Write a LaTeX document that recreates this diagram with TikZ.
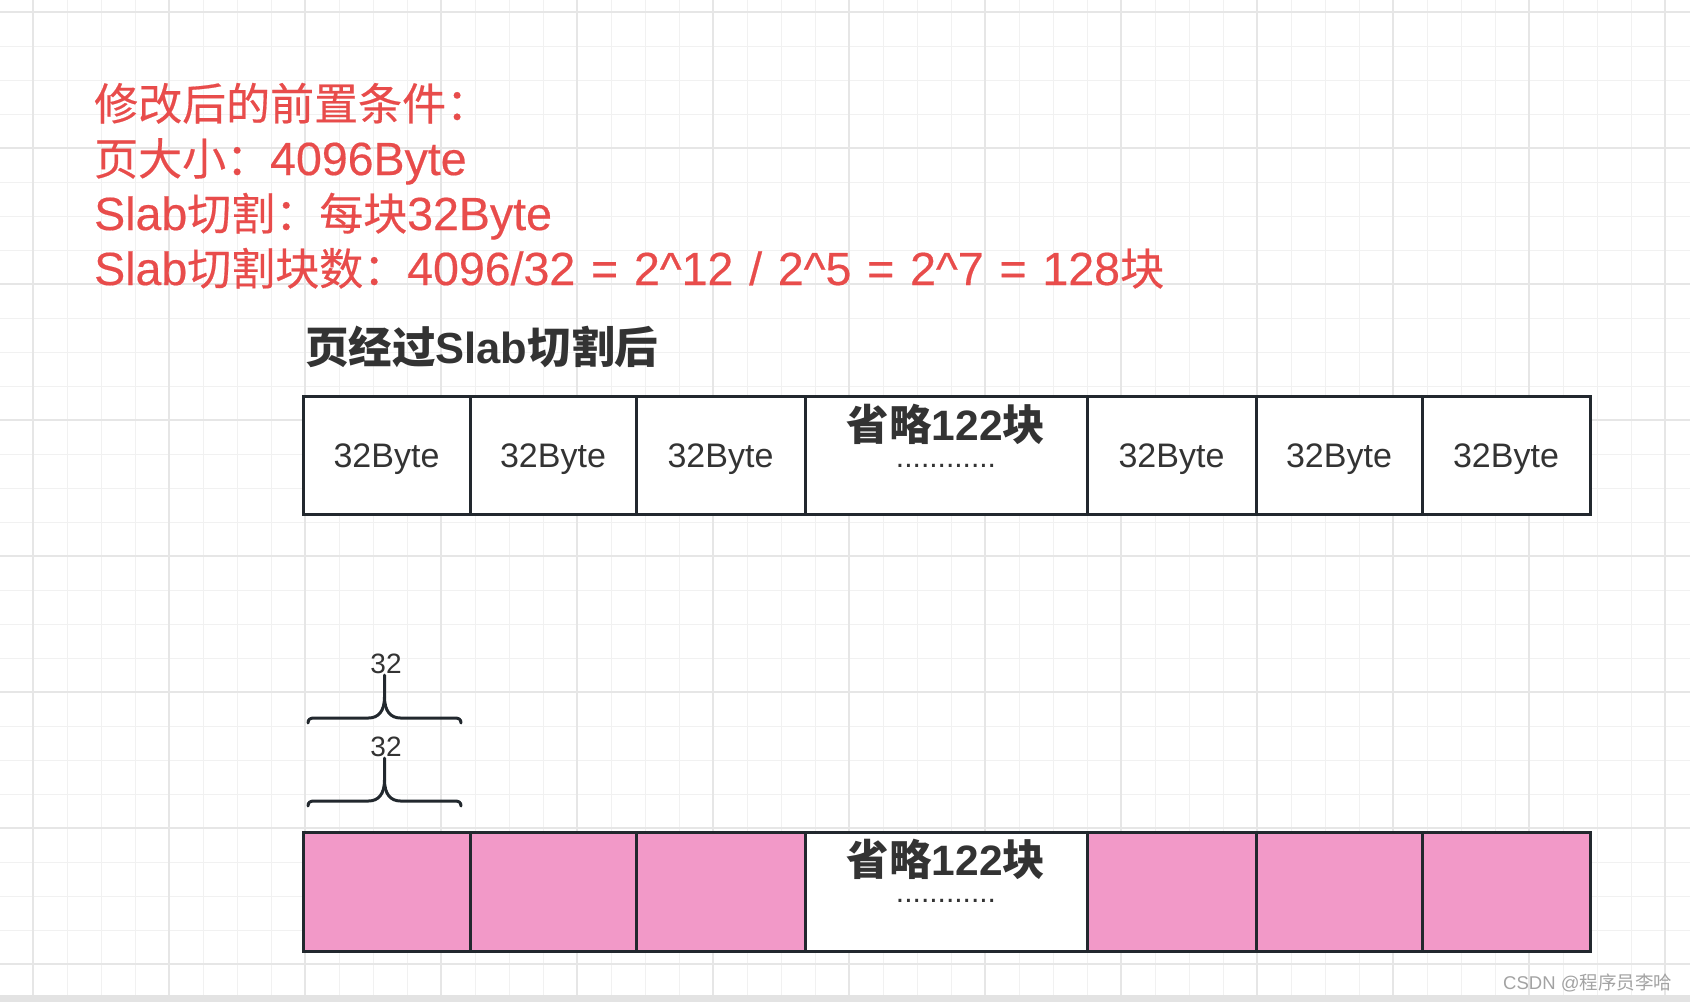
\documentclass[tikz,border=0pt]{standalone}
\usepackage{fontspec}
\setmainfont{Liberation Sans}
\newfontfamily\cjk{Noto Sans CJK SC}
\newfontfamily\cjks{Noto Sans CJK SC}[Scale=0.946,FakeBold=0.4]
\newfontfamily\redlat{Liberation Sans}[FakeBold=0.4]
\newcommand{\C}[1]{{\cjk #1}}
\newcommand{\CS}[1]{{\cjks #1}}
\definecolor{redtext}{HTML}{E84C4B}
\definecolor{darktext}{HTML}{333333}
\definecolor{strokec}{HTML}{22282E}
\definecolor{pinkfill}{HTML}{F299C8}
\definecolor{gridminorc}{HTML}{F1F1F1}
\definecolor{gridmajorc}{HTML}{E6E6E6}
\definecolor{stripc}{HTML}{E3E3E3}
\definecolor{markc}{HTML}{A3A3A3}
\tikzset{
  gridminor/.style={draw=gridminorc, line width=1.5pt},
  gridmajor/.style={draw=gridmajorc, line width=2pt},
  redtxt/.style={inner sep=0pt, text=redtext, font={\redlat\fontsize{46.5}{55}\selectfont\spaceskip=15.8pt\relax}},
  titletxt/.style={inner sep=0pt, text=darktext, font=\fontsize{43.5}{50}\selectfont\bfseries},
  cell/.style={draw=strokec, line width=3pt, inner sep=0pt, text=darktext,
    font=\fontsize{34}{40}\selectfont, text height=24.3pt, text depth=0pt},
  pinkcell/.style={cell, fill=pinkfill},
  whitecell/.style={cell, fill=white},
  omittxt/.style={inner sep=0pt, text=darktext, font=\fontsize{42.5}{50}\selectfont\bfseries, text depth=0pt},
  dotstxt/.style={inner sep=0pt, text=darktext, font=\fontsize{30}{36}\selectfont, text height=4pt, text depth=0pt},
  bracelbl/.style={inner sep=0pt, text=darktext, font=\fontsize{28}{34}\selectfont},
  bracepath/.style={draw=strokec, line width=3pt, line cap=round, line join=round},
  marktxt/.style={inner sep=0pt, text=markc, font=\fontsize{18.5}{22}\selectfont}
}
\begin{document}
\begin{tikzpicture}[x=1pt,y=-1pt]
\useasboundingbox (0,0) rectangle (1690,1002);
\fill[white] (0,0) rectangle (1690,1002);
% grid
\foreach \k in {0,...,48} \draw[gridminor] ({33.3+34*\k},0) -- ({33.3+34*\k},995);
\foreach \k in {0,...,28} \draw[gridminor] (0,{12.3+34*\k}) -- (1690,{12.3+34*\k});
\foreach \k in {0,4,...,48} \draw[gridmajor] ({33.3+34*\k},0) -- ({33.3+34*\k},995);
\foreach \k in {0,4,...,28} \draw[gridmajor] (0,{12.3+34*\k}) -- (1690,{12.3+34*\k});
\fill[stripc] (0,995) rectangle (1690,1002);

% red conditions
\node[redtxt, anchor=base west] (l1) at (94,120) {\CS{修改后的前置条件：}};
\node[redtxt, anchor=base west] (l2) at (94,175) {\CS{页大小：}4096Byte};
\node[redtxt, anchor=base west] (l3) at (94,230) {Slab\CS{切割：每块}32Byte};
\node[redtxt, anchor=base west] (l4) at (94,285) {Slab\CS{切割块数：}4096/32 = 2\textasciicircum12 / 2\textasciicircum5 = 2\textasciicircum7 = 128\CS{块}};

% title
\node[titletxt, anchor=base west] (title) at (305,363) {\C{页经过}Slab\C{切割后}};

% top row
\node[whitecell, minimum width=167, minimum height=118] (t1) at (386.5,455) {32Byte};
\node[whitecell, minimum width=166, minimum height=118] (t2) at (553,455) {32Byte};
\node[whitecell, minimum width=169, minimum height=118] (t3) at (720.5,455) {32Byte};
\node[whitecell, minimum width=282, minimum height=118] (t4) at (946,455) {};
\node[whitecell, minimum width=169, minimum height=118] (t5) at (1171.5,455) {32Byte};
\node[whitecell, minimum width=166, minimum height=118] (t6) at (1339,455) {32Byte};
\node[whitecell, minimum width=168, minimum height=118] (t7) at (1506,455) {32Byte};
\node[omittxt, anchor=base] (t4a) at (946,440) {\C{省略}122\C{块}};
\node[dotstxt, anchor=base] (t4b) at (946,467) {............};

% braces
\node[bracelbl, anchor=base] (b1l) at (386,673) {32};
\node[bracelbl, anchor=base] (b2l) at (386,756.5) {32};
\foreach \yb in {723,806} {
  \draw[bracepath] (308,\yb) .. controls (308,\yb-4) and (310.5,\yb-5) .. (314.5,\yb-5)
     -- (368.5,\yb-5) .. controls (378.5,\yb-5) and (384.5,\yb-12) .. (384.5,\yb-26) -- (384.5,\yb-48);
  \draw[bracepath] (461,\yb) .. controls (461,\yb-4) and (458.5,\yb-5) .. (454.5,\yb-5)
     -- (400.5,\yb-5) .. controls (390.5,\yb-5) and (384.5,\yb-12) .. (384.5,\yb-26);
}

% bottom row
\node[pinkcell, minimum width=167, minimum height=119] (p1) at (386.5,891.5) {};
\node[pinkcell, minimum width=166, minimum height=119] (p2) at (553,891.5) {};
\node[pinkcell, minimum width=169, minimum height=119] (p3) at (720.5,891.5) {};
\node[whitecell, minimum width=282, minimum height=119] (p4) at (946,891.5) {};
\node[pinkcell, minimum width=169, minimum height=119] (p5) at (1171.5,891.5) {};
\node[pinkcell, minimum width=166, minimum height=119] (p6) at (1339,891.5) {};
\node[pinkcell, minimum width=168, minimum height=119] (p7) at (1506,891.5) {};
\node[omittxt, anchor=base] (p4a) at (946,875) {\C{省略}122\C{块}};
\node[dotstxt, anchor=base] (p4b) at (946,902) {............};

% watermark
\node[marktxt, anchor=base west] (wm) at (1503,989.5) {CSDN @\C{程序员李哈}};
\end{tikzpicture}
\end{document}
